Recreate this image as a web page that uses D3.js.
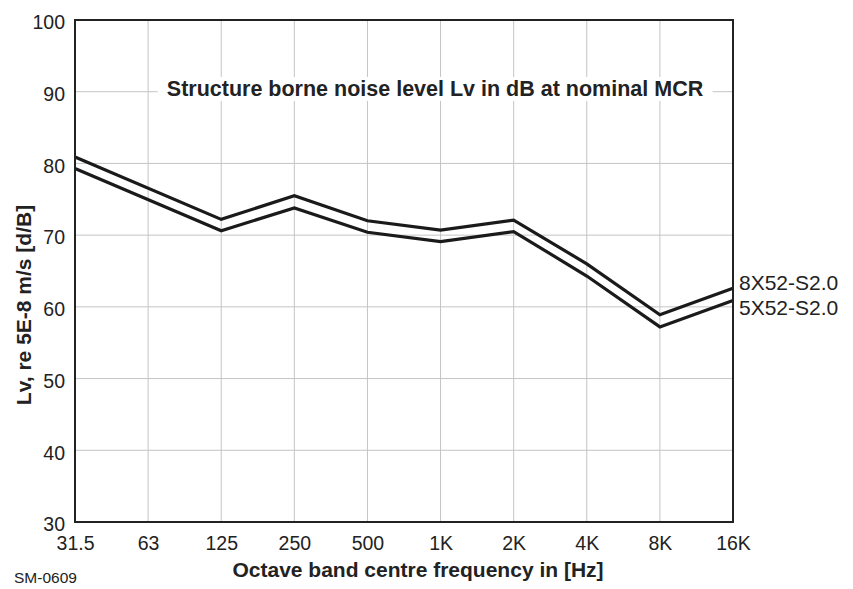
<!DOCTYPE html>
<html>
<head>
<meta charset="utf-8">
<script src="https://cdn.jsdelivr.net/npm/d3@7"></script>
<style>
  body { margin: 0; background: #fff; }
  text { font-family: "Liberation Sans", Arial, sans-serif; fill: #222; }
</style>
</head>
<body>
<script>
//chart data
var bands = ["31.5", "63", "125", "250", "500", "1K", "2K", "4K", "8K", "16K"];
var lv8x52 = [80.9, null, 72.2, 75.5, 72.0, 70.7, 72.1, 66.0, 58.9, 62.6];
var lv5x52 = [79.3, null, 70.6, 73.8, 70.4, 69.1, 70.5, 64.3, 57.2, 60.9];
var yTicks = [30, 40, 50, 60, 70, 80, 90, 100];
var seriesNames = ["8X52-S2.0", "5X52-S2.0"];

//frame
var width = 853,
    height = 589;

var svg = d3.select("body")
    .append("svg")
    .attr("width", width)
    .attr("height", height);

var x = d3.scalePoint()
    .domain(bands)
    .range([75, 733]);

var y = d3.scaleLinear()
    .domain([30, 100])
    .range([522, 20]);

//grid lines
svg.selectAll(".vgrid")
    .data(bands)
    .enter()
    .append("line")
    .attr("x1", function(d){ return x(d); })
    .attr("x2", function(d){ return x(d); })
    .attr("y1", y(100))
    .attr("y2", y(30))
    .attr("stroke", "#c4c4c4")
    .attr("stroke-width", 1);

svg.selectAll(".hgrid")
    .data(yTicks)
    .enter()
    .append("line")
    .attr("x1", x("31.5"))
    .attr("x2", x("16K"))
    .attr("y1", function(d){ return y(d); })
    .attr("y2", function(d){ return y(d); })
    .attr("stroke", "#c4c4c4")
    .attr("stroke-width", 1);

//title with white backing so the 90 grid line is broken
var title = svg.append("text")
    .attr("x", 435)
    .attr("y", 96)
    .attr("text-anchor", "middle")
    .style("font-size", "21.5px")
    .style("font-weight", "bold")
    .text("Structure borne noise level Lv in dB at nominal MCR");
var bb = title.node().getBBox();
svg.insert("rect", "text")
    .attr("x", bb.x - 9)
    .attr("y", bb.y)
    .attr("width", bb.width + 18)
    .attr("height", bb.height)
    .attr("fill", "#fff");

//series lines
[lv8x52, lv5x52].forEach(function(s){
    var pts = s.map(function(v, i){ return [bands[i], v]; })
        .filter(function(p){ return p[1] != null; });
    svg.append("path")
        .datum(pts)
        .attr("fill", "none")
        .attr("stroke", "#1a1a1a")
        .attr("stroke-width", 3.2)
        .attr("stroke-linejoin", "miter")
        .attr("d", d3.line()
            .x(function(p){ return x(p[0]); })
            .y(function(p){ return y(p[1]); }));
});

//frame border
svg.append("rect")
    .attr("x", x("31.5"))
    .attr("y", y(100))
    .attr("width", x("16K") - x("31.5"))
    .attr("height", y(30) - y(100))
    .attr("fill", "none")
    .attr("stroke", "#222")
    .attr("stroke-width", 2);

//axes labels
var xAxis = svg.append("g")
    .attr("transform", "translate(0," + y(30) + ")")
    .call(d3.axisBottom(x).tickSize(0).tickPadding(14));
xAxis.select(".domain").remove();
xAxis.selectAll("text")
    .style("font-size", "19.5px")
    .style("font-family", "Liberation Sans, Arial, sans-serif")
    .attr("fill", "#222")
    .attr("dy", "0.71em");

var yAxis = svg.append("g")
    .attr("transform", "translate(" + x("31.5") + ",0)")
    .call(d3.axisLeft(y).tickValues(yTicks).tickSize(0).tickPadding(10));
yAxis.select(".domain").remove();
yAxis.selectAll("text")
    .style("font-size", "19.5px")
    .style("font-family", "Liberation Sans, Arial, sans-serif")
    .attr("fill", "#222")
    .attr("dy", "0.45em");

//series labels
var last = bands.length - 1;
svg.selectAll(".slabel")
    .data(seriesNames)
    .enter()
    .append("text")
    .attr("x", 739)
    .attr("y", function(d, i){ return [y(lv8x52[last]) + 2, y(lv5x52[last]) + 15][i]; })
    .style("font-size", "21px")
    .text(function(d){ return d; });

//axis titles
svg.append("text")
    .attr("x", 418)
    .attr("y", 577)
    .attr("text-anchor", "middle")
    .style("font-size", "21px")
    .style("font-weight", "bold")
    .text("Octave band centre frequency in [Hz]");

svg.append("text")
    .attr("transform", "translate(31," + 305 + ") rotate(-90)")
    .attr("text-anchor", "middle")
    .style("font-size", "21px")
    .style("font-weight", "bold")
    .text("Lv, re 5E-8 m/s [d/B]");

svg.append("text")
    .attr("x", 14)
    .attr("y", 583)
    .style("font-size", "15.5px")
    .text("SM-0609");
</script>
</body>
</html>
